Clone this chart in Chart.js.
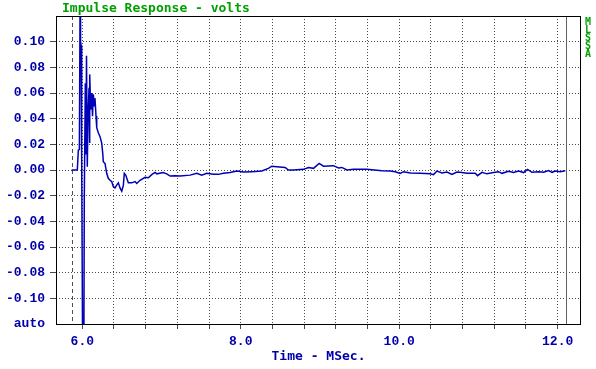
<!DOCTYPE html>
<html>
<head>
<meta charset="utf-8">
<script src="https://cdn.jsdelivr.net/npm/chart.js@4/dist/chart.umd.min.js"></script>
<style>
html,body{margin:0;padding:0;background:#fff;}
#wrap{width:596px;height:369px;position:relative;}
</style>
</head>
<body>
<div id="wrap"><canvas id="c" width="596" height="369"></canvas></div>
<script>
// ---- data ----
const times = [5.866,5.937,5.950,5.963,5.972,5.978,5.985,5.992,6.003,6.020,6.025,6.038,6.046,6.053,6.063,6.072,6.085,6.090,6.097,6.106,6.119,6.129,6.139,6.152,6.160,6.173,6.182,6.202,6.224,6.245,6.258,6.265,6.287,6.308,6.328,6.350,6.371,6.392,6.413,6.434,6.455,6.476,6.498,6.518,6.530,6.548,6.581,6.624,6.666,6.687,6.729,6.792,6.834,6.880,6.918,6.943,7.019,7.066,7.108,7.171,7.234,7.361,7.445,7.508,7.571,7.655,7.718,7.781,7.866,7.950,8.034,8.140,8.266,8.349,8.392,8.455,8.560,8.602,8.665,8.791,8.855,8.918,8.990,9.044,9.170,9.234,9.276,9.340,9.423,9.592,9.782,9.887,9.950,10.013,10.055,10.140,10.266,10.392,10.434,10.476,10.540,10.603,10.666,10.729,10.792,10.855,10.960,10.989,11.045,11.108,11.191,11.255,11.297,11.381,11.444,11.507,11.570,11.621,11.676,11.760,11.823,11.886,11.929,11.971,12.034,12.097];
const volts = [0,0,0.0155,0.016,0.13,0.10,0.097,0.010,-0.13,-0.13,-0.0235,0.0675,0.012,0.089,0.0026,0.042,0.064,0.021,0.0745,0.047,0.060,0.042,0.059,0.050,0.056,0.042,0.033,0.029,0.026,0.021,0.013,0.0065,0.005,-0.0026,-0.0065,-0.008,-0.009,-0.013,-0.014,-0.0118,-0.010,-0.014,-0.0165,-0.012,-0.0026,-0.004,-0.010,-0.010,-0.009,-0.0105,-0.008,-0.0057,-0.006,-0.0034,-0.0018,-0.003,-0.002,-0.003,-0.0047,-0.0044,-0.0047,-0.004,-0.0026,-0.004,-0.0026,-0.0034,-0.0034,-0.0026,-0.002,-0.0008,-0.0016,-0.0013,-0.0008,0.0013,0.003,0.0026,0.002,0,0,0.0005,0.002,0.0013,0.0052,0.003,0.0034,0.0016,0.002,0,0.0005,0.0005,-0.0005,-0.0008,-0.0013,-0.0026,-0.0013,-0.0023,-0.0026,-0.0029,-0.0036,-0.0008,-0.0023,-0.0016,-0.0034,-0.0016,-0.002,-0.0026,-0.0026,-0.0044,-0.0018,-0.003,-0.002,-0.0013,-0.0026,-0.001,-0.002,-0.0008,-0.002,0.0005,-0.0018,-0.0013,-0.0018,-0.0005,-0.0018,-0.0008,-0.0013,-0.0005];
const xTickValues = [6.0,6.4,6.8,7.2,7.6,8.0,8.4,8.8,9.2,9.6,10.0,10.4,10.8,11.2,11.6,12.0];
const xLabelValues = [6.0,8.0,10.0,12.0];
const yTickValues = [-0.12,-0.10,-0.08,-0.06,-0.04,-0.02,0.00,0.02,0.04,0.06,0.08,0.10,0.12];
const markerTimes = [5.866, 12.1];
const titleText = 'Impulse Response - volts';
const xTitleText = 'Time - MSec.';
const sideText = 'MLSSA';

const BLUE_TXT = '#0000AA';
const GREEN_TXT = '#00A000';
const GRID = '#4a4a4a';
const LBLFONT = {family: '"Liberation Mono", monospace', size: 13, weight: 'bold'};

const decor = {
  id: 'decor',
  beforeDatasetsDraw(chart) {
    const {ctx, chartArea: a, scales: {x}} = chart;
    ctx.save();
    ctx.lineWidth = 1;
    ctx.strokeStyle = '#505050';
    const x1 = Math.round(x.getPixelForValue(markerTimes[0])) + 0.5;
    ctx.setLineDash([4, 3]);
    ctx.beginPath(); ctx.moveTo(x1, a.top); ctx.lineTo(x1, a.bottom); ctx.stroke();
    ctx.setLineDash([]);
    const x2 = Math.round(x.getPixelForValue(markerTimes[1])) + 0.5;
    ctx.strokeStyle = '#606060';
    ctx.beginPath(); ctx.moveTo(x2, a.top); ctx.lineTo(x2, a.bottom); ctx.stroke();
    ctx.restore();
  },
  afterDraw(chart) {
    const {ctx, chartArea: a} = chart;
    ctx.save();
    ctx.strokeStyle = '#000';
    ctx.lineWidth = 1;
    ctx.strokeRect(a.left + 0.5, a.top + 0.5, a.right - a.left - 1, a.bottom - a.top);
    ctx.font = 'bold 13px "DejaVu Sans Mono", monospace';
    ctx.fillStyle = GREEN_TXT;
    ctx.textAlign = 'left';
    ctx.textBaseline = 'alphabetic';
    ctx.fillText(titleText, 62, 12);
    ctx.font = 'bold 10px "DejaVu Sans Mono", monospace';
    ctx.textAlign = 'center';
    ctx.textBaseline = 'middle';
    for (let i = 0; i < sideText.length; i++) {
      ctx.fillText(sideText[i], 588, 22 + i * 8);
    }
    ctx.font = 'bold 13px "DejaVu Sans Mono", monospace';
    ctx.fillStyle = BLUE_TXT;
    ctx.textAlign = 'center';
    ctx.textBaseline = 'middle';
    ctx.fillText(xTitleText, (a.left + a.right) / 2, 357);
    ctx.restore();
  }
};

new Chart(document.getElementById('c'), {
  type: 'line',
  data: {
    datasets: [{
      data: times.map((t, i) => ({x: t, y: volts[i]})),
      borderColor: '#0000B8',
      borderWidth: 1.5,
      pointRadius: 0,
      tension: 0,
      fill: false
    }]
  },
  options: {
    responsive: false,
    animation: false,
    events: [],
    layout: {padding: {left: 0, right: 15, top: 16, bottom: 0}},
    plugins: {legend: {display: false}, tooltip: {enabled: false}, title: {display: false}},
    scales: {
      x: {
        type: 'linear',
        min: 5.668,
        max: 12.295,
        afterBuildTicks: s => { s.ticks = xTickValues.map(v => ({value: v})); },
        afterFit: s => { s.height = 45; },
        ticks: {
          autoSkip: false, maxRotation: 0, minRotation: 0,
          padding: 5,
          color: BLUE_TXT, font: LBLFONT,
          callback: v => xLabelValues.includes(v) ? v.toFixed(1) : ''
        },
        grid: {color: GRID, lineWidth: 1, tickLength: 5, tickColor: GRID, tickBorderDash: [], drawTicks: true},
        border: {display: false, dash: [1, 2]}
      },
      y: {
        type: 'linear',
        min: -0.12,
        max: 0.12,
        afterBuildTicks: s => { s.ticks = yTickValues.map(v => ({value: v})); },
        afterFit: s => { s.width = 56; },
        ticks: {
          autoSkip: false,
          padding: 5,
          color: BLUE_TXT, font: LBLFONT,
          callback: v => (v > 0.119 ? '' : (v < -0.119 ? 'auto' : v.toFixed(2)))
        },
        grid: {
          color: c => (Math.abs(c.tick.value) > 0.119 ? 'rgba(0,0,0,0)' : GRID),
          tickColor: c => (Math.abs(c.tick.value) > 0.119 ? 'rgba(0,0,0,0)' : GRID),
          lineWidth: 1, tickLength: 6, tickBorderDash: [], drawTicks: true
        },
        border: {display: false, dash: [1, 2]}
      }
    }
  },
  plugins: [decor]
});
</script>
</body>
</html>
